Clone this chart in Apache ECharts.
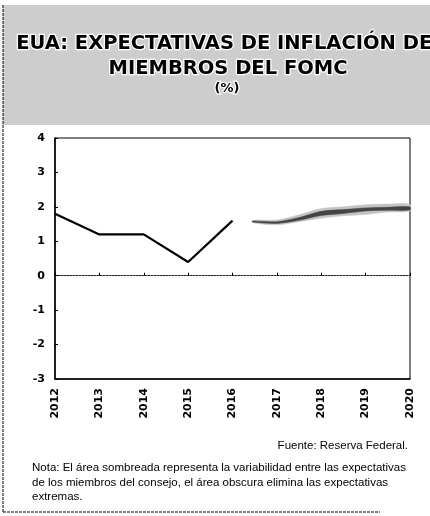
<!DOCTYPE html>
<html lang="es">
<head>
    <meta charset="UTF-8">
    <title>EUA: Expectativas de inflación</title>
    <script src="https://cdn.jsdelivr.net/npm/echarts@6/dist/echarts.min.js"></script>
    <style>
        * { margin: 0; padding: 0; }
        body { background: #fff; }
        #main { width: 430px; height: 516px; }
    </style>
</head>
<body>
    <div id="main"></div>
    <script>
        // datos observados
        var years = [2012, 2013, 2014, 2015, 2016];
        var inflation = [1.8, 1.2, 1.2, 0.4, 1.6];

        // proyecciones FOMC (bandas)
        var fcYears = [2016.45, 2017, 2017.5, 2018, 2018.5, 2019, 2019.5, 2020];
        var lightLow = [1.54, 1.48, 1.57, 1.67, 1.74, 1.78, 1.85, 1.88];
        var lightHigh = [1.61, 1.62, 1.77, 1.95, 2.0, 2.06, 2.08, 2.07];
        var darkLow = [1.56, 1.52, 1.61, 1.75, 1.81, 1.88, 1.9, 1.91];
        var darkHigh = [1.59, 1.57, 1.69, 1.87, 1.92, 1.97, 1.99, 2.0];

        var yTicks = [-3, -2, -1, 0, 1, 2, 3, 4];

        function pairs(xs, ys) {
            var out = [];
            for (var i = 0; i < xs.length; i++) out.push([xs[i], ys[i]]);
            return out;
        }

        // banda como poligono: sube por el borde bajo y vuelve por el alto
        function bandSeries(lo, hi, fill) {
            var rows = [];
            for (var i = 0; i < fcYears.length; i++) rows.push([fcYears[i], lo[i], hi[i]]);
            return {
                type: 'custom',
                data: rows,
                silent: true,
                encode: { x: 0, y: [1, 2] },
                renderItem: function (params, api) {
                    if (params.dataIndex !== 0) return;
                    var pts = [];
                    for (var i = 0; i < rows.length; i++) pts.push(api.coord([rows[i][0], rows[i][1]]));
                    for (var j = rows.length - 1; j >= 0; j--) pts.push(api.coord([rows[j][0], rows[j][2]]));
                    return {
                        type: 'polygon',
                        shape: { points: pts, smooth: 0.3 },
                        style: { fill: fill, stroke: fill, lineWidth: 0.5 }
                    };
                }
            };
        }

        var titleStyle = {
            fontFamily: 'DejaVu Sans',
            fontWeight: 'bold',
            fontSize: 19.5,
            fill: '#000',
            stroke: '#fff',
            lineWidth: 2.5
        };

        var chart = echarts.init(document.getElementById('main'));

        chart.setOption({
            animation: false,
            backgroundColor: '#fff',
            graphic: [
                // caja del encabezado
                { type: 'rect', shape: { x: 3, y: 5, width: 430, height: 120 }, style: { fill: '#cdcdcd' }, z: -10 },
                // borde de la página
                { type: 'line', shape: { x1: 3, y1: 5, x2: 3, y2: 512 }, style: { stroke: '#000', lineWidth: 1, lineDash: [3, 1] } },
                { type: 'line', shape: { x1: 3, y1: 512, x2: 380, y2: 512 }, style: { stroke: '#000', lineWidth: 1, lineDash: [3, 1] } },
                { type: 'text', left: 15, top: 33, style: Object.assign({ text: 'EUA: EXPECTATIVAS DE INFLACIÓN DE' }, titleStyle) },
                { type: 'text', x: 228, y: 69, style: Object.assign({ text: 'MIEMBROS DEL FOMC', align: 'center', verticalAlign: 'middle' }, titleStyle) },
                { type: 'text', x: 227, y: 89, style: Object.assign({}, titleStyle, { text: '(%)', fontSize: 13, align: 'center', verticalAlign: 'middle' }) },
                {
                    type: 'text', right: 22, top: 440,
                    style: { text: 'Fuente: Reserva Federal.', fontFamily: 'Liberation Sans', fontSize: 11.5, fill: '#000' }
                },
                {
                    type: 'text', left: 32, top: 461,
                    style: {
                        text: 'Nota: El área sombreada representa la variabilidad entre las expectativas\nde los miembros del consejo, el área obscura elimina las expectativas\nextremas.',
                        fontFamily: 'Liberation Sans', fontSize: 11.5, lineHeight: 14.5, fill: '#000'
                    }
                }
            ],
            grid: {
                left: 55, right: 20, top: 138, height: 241,
                show: true, borderColor: '#000', borderWidth: 1
            },
            xAxis: [{
                type: 'value', min: 2012, max: 2020, interval: 1,
                axisLine: { onZero: false, lineStyle: { color: '#000', width: 1.5 } },
                axisTick: { show: false },
                splitLine: { show: false },
                axisLabel: {
                    rotate: 90, margin: 9, color: '#000',
                    fontFamily: 'DejaVu Sans', fontWeight: 'bold', fontSize: 11,
                    formatter: function (v) { return String(v); }
                }
            }, {
                type: 'value', min: 2012, max: 2020, interval: 1, position: 'bottom',
                axisLine: { onZero: true, lineStyle: { color: '#222', width: 1, type: [2, 1] } },
                axisTick: { show: true, inside: true, length: 3, lineStyle: { color: '#000' } },
                axisLabel: { show: false },
                splitLine: { show: false }
            }],
            yAxis: {
                type: 'value', min: -3, max: 4, interval: 1,
                axisLine: { show: true, lineStyle: { color: '#000', width: 1.5 } },
                axisTick: { show: true, inside: true, length: 3, lineStyle: { color: '#000' } },
                splitLine: { show: false },
                axisLabel: {
                    margin: 10, color: '#000',
                    fontFamily: 'DejaVu Sans', fontWeight: 'bold', fontSize: 11,
                    formatter: function (v) { return yTicks.indexOf(v) >= 0 ? String(v) : ''; }
                }
            },
            series: [
                bandSeries(lightLow, lightHigh, '#c4c4c4'),
                bandSeries(darkLow, darkHigh, '#444444'),
                {
                    type: 'line', data: pairs(years, inflation),
                    symbol: 'none', lineStyle: { color: '#000', width: 2.2 }
                }
            ]
        });
    </script>
</body>
</html>
